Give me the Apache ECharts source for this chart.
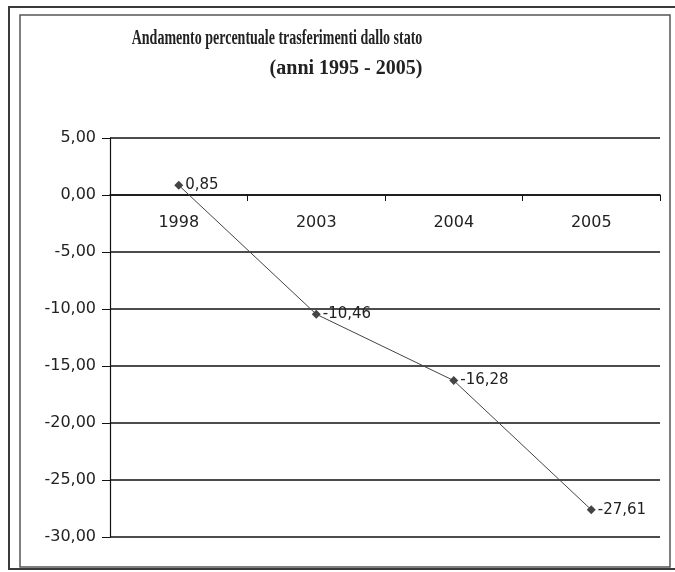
<!DOCTYPE html>
<html>
<head>
<meta charset="utf-8">
<script src="https://cdn.jsdelivr.net/npm/echarts@6/dist/echarts.min.js"></script>
<style>html,body{margin:0;padding:0;background:#fff;}#c{width:675px;height:572px;}</style>
</head>
<body>
<div id="c"></div>
<script>
const categories = ['1998', '2003', '2004', '2005'];
const values = [0.85, -10.46, -16.28, -27.61];
const titleLine1 = 'Andamento percentuale trasferimenti dallo stato';
const titleLine2 = '(anni 1995 - 2005)';
const yMin = -30, yMax = 5, yStep = 5;

const fmt = v => v.toFixed(2).replace('.', ',');
const gridTop = 138, gridBottom = 35, H = 572;
const plotH = H - gridTop - gridBottom;
const zeroOffset = -plotH * (0 - yMin) / (yMax - yMin);

const chart = echarts.init(document.getElementById('c'));
const titleStyle = { fontFamily: 'Liberation Serif', fontWeight: 'bold', fontSize: 20, fill: '#222', textAlign: 'center', textVerticalAlign: 'top' };
chart.setOption({
  backgroundColor: '#fff',
  animation: false,
  graphic: [
    { type: 'rect', shape: { x: 9, y: 7, width: 700, height: 562 }, style: { fill: 'none', stroke: '#3a3a3a', lineWidth: 2 } },
    { type: 'rect', shape: { x: 20, y: 15, width: 650, height: 552 }, style: { fill: 'none', stroke: '#555', lineWidth: 1.5 } },
    { type: 'text', x: 277, y: 29, scaleX: 0.70, style: Object.assign({ text: titleLine1 }, titleStyle) },
    { type: 'text', x: 346, y: 59, scaleX: 1.0, style: Object.assign({ text: titleLine2 }, titleStyle) }
  ],
  grid: { left: 110, right: 15, top: gridTop, bottom: gridBottom },
  xAxis: {
    type: 'category',
    data: categories,
    boundaryGap: true,
    position: 'bottom',
    offset: zeroOffset,
    axisLine: { onZero: false, lineStyle: { color: '#111', width: 1.5 } },
    axisTick: { show: true, length: 6, lineStyle: { color: '#111' } },
    axisLabel: { margin: 20, fontFamily: 'DejaVu Sans', fontSize: 16, color: '#222' }
  },
  yAxis: {
    type: 'value',
    min: yMin, max: yMax, interval: yStep,
    axisLine: { show: true, lineStyle: { color: '#111', width: 1.2 } },
    axisTick: { show: true, length: 8, lineStyle: { color: '#111' } },
    axisLabel: { formatter: v => fmt(v), margin: 14, fontFamily: 'DejaVu Sans', fontSize: 16, color: '#222' },
    splitLine: { show: true, lineStyle: { color: '#111', width: 1.5 } }
  },
  series: [{
    type: 'line',
    data: values,
    symbol: 'diamond',
    symbolSize: 9,
    lineStyle: { color: '#444', width: 1 },
    itemStyle: { color: '#444' },
    label: { show: true, position: 'right', distance: 2, formatter: p => fmt(p.value),
      fontFamily: 'DejaVu Sans', fontSize: 15, color: '#222' }
  }]
});
</script>
</body>
</html>
